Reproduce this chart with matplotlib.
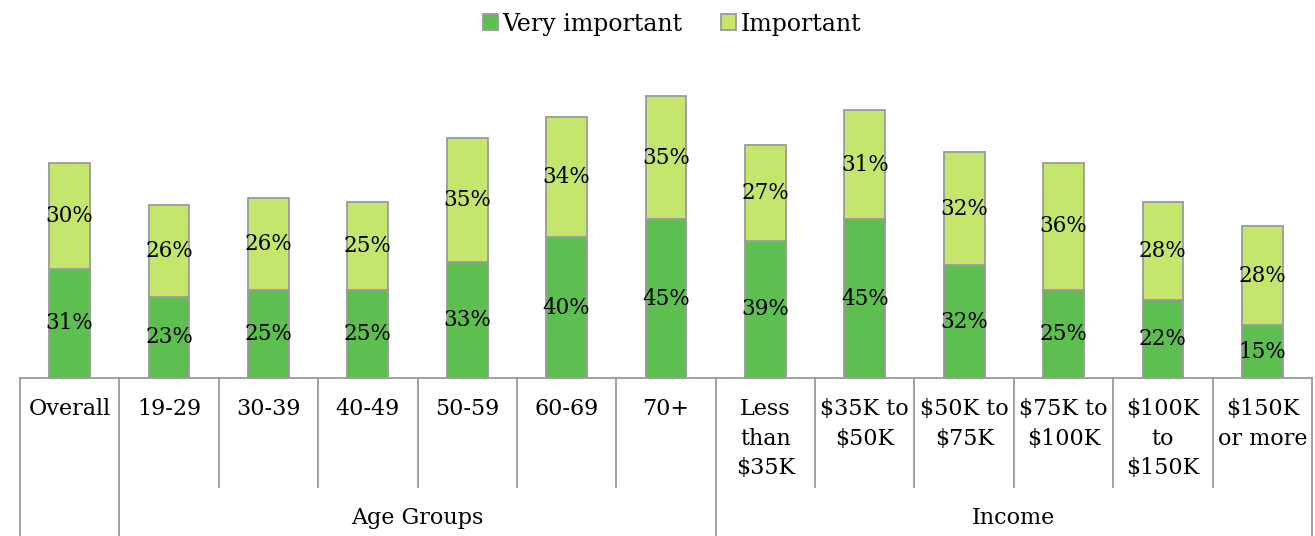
import matplotlib.pyplot as plt
import matplotlib.transforms as mtransforms

categories = ["Overall", "19-29", "30-39", "40-49", "50-59", "60-69", "70+",
              "Less\nthan\n$35K", "$35K to\n$50K", "$50K to\n$75K",
              "$75K to\n$100K", "$100K\nto\n$150K", "$150K\nor more"]
very_important = [31, 23, 25, 25, 33, 40, 45, 39, 45, 32, 25, 22, 15]
important = [30, 26, 26, 25, 35, 34, 35, 27, 31, 32, 36, 28, 28]
groups = [("Age Groups", 1, 6), ("Income", 7, 12)]

plt.rcParams['font.family'] = ['DejaVu Serif']
dark = "#5dbf4f"
light = "#c5e66d"
edge = "#9a9a9a"

fig = plt.figure(figsize=(13.15, 5.36), dpi=100)
ax = fig.add_axes([20 / 1315, 158 / 536, 1292 / 1315, 308 / 536])

x = list(range(len(categories)))
b1 = ax.bar(x, very_important, width=0.41, color=dark, edgecolor=edge,
            linewidth=1.3, label="Very important")
b2 = ax.bar(x, important, width=0.41, bottom=very_important, color=light,
            edgecolor=edge, linewidth=1.3, label="Important")

for i in x:
    ax.text(i, very_important[i] / 2, f"{very_important[i]}%", ha="center",
            va="center", fontsize=15.5)
    ax.text(i, very_important[i] + important[i] / 2, f"{important[i]}%",
            ha="center", va="center", fontsize=15.5)

ax.set_xlim(-0.5, len(categories) - 0.5)
ax.set_ylim(0, 87.4)
ax.axis("off")

trans = mtransforms.blended_transform_factory(ax.transData, ax.transAxes)
ax.plot([-0.5, len(categories) - 0.5], [0, 0], color=edge, lw=1.3,
        transform=trans, clip_on=False)

# separators: long ones around groups, short ones between categories
long_seps = [-0.5, 0.5, 6.5, len(categories) - 0.5]
for i in range(len(categories) + 1):
    s = i - 0.5
    bottom = -0.513 if s in long_seps else -0.354
    ax.plot([s, s], [0, bottom], color=edge, lw=1.3, transform=trans,
            clip_on=False)

for i, c in enumerate(categories):
    ax.text(i, -0.065, c, ha="center", va="top", fontsize=16,
            linespacing=1.45, transform=trans)

for name, a, b in groups:
    ax.text((a + b) / 2, -0.455, name, ha="center", va="center",
            fontsize=16, transform=trans)

fig.legend(handles=[b1, b2], loc="center", bbox_to_anchor=(672 / 1315, 1 - 24 / 536),
           ncol=2, frameon=False, fontsize=17, handlelength=0.65,
           handleheight=0.65, handletextpad=0.2, columnspacing=1.6)

fig.savefig("out.png", dpi=100)
